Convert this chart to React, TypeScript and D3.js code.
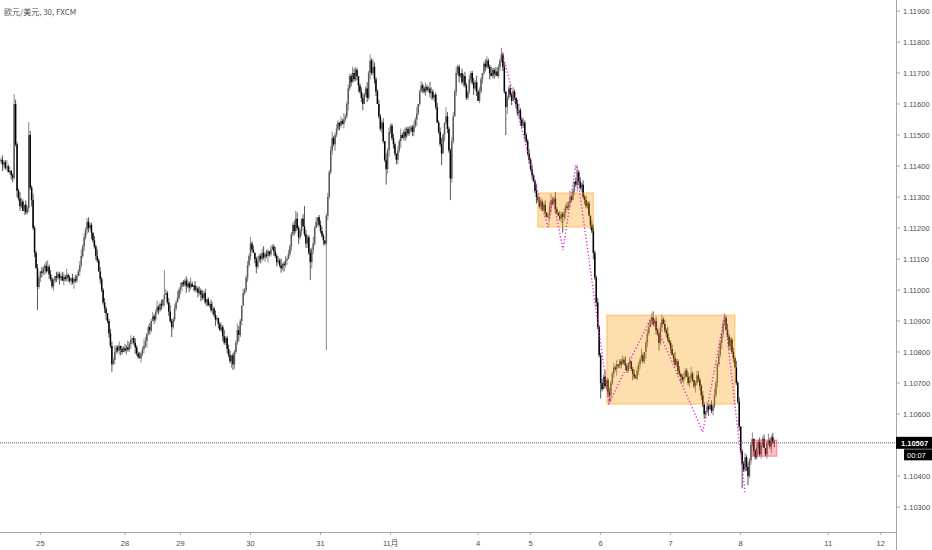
import React from 'react';
import * as d3 from 'd3';

// ---------- data ----------
const title = '欧元/美元, 30, FXCM';
// prices are stored as offsets above 1.10000 in units of 0.00001
const basePrice = 1.1;
const firstOpen = 1415;
const closes = [
  1420, 1405, 1412, 1395, 1398, 1380, 1385, 1370, 1362,
  1600, 1470, 1320,
  1295, 1270, 1285, 1255, 1275, 1250, 1265,
  1500, 1330, 1290, 1200, 1120, 1070, 1010, 1040, 1060,
  1055, 1070, 1078, 1060, 1075, 1050, 1035, 1012, 1030, 1045, 1040, 1052, 1038, 1045, 1030, 1042, 1035, 1048, 1040, 1030, 1038, 1025, 1035, 1030, 1045, 1060, 1080,
  1110, 1140, 1170, 1195, 1220, 1200, 1210,
  1185, 1160, 1140, 1110, 1095, 1060, 1035, 1000, 960, 940, 925, 900, 860, 820, 760, 775,
  800, 815, 805, 820, 810, 800, 812, 805, 815, 808, 825, 840, 845, 830, 815, 795, 785, 780, 795, 810,
  820, 835, 860, 880, 870, 900, 915, 905, 930, 945, 935, 955, 950, 970, 985,
  990, 960, 930, 900, 880, 905, 940, 960, 975, 1000, 1010,
  1025, 1018, 1030, 1012, 1022, 1008, 1020, 1010, 1015, 1000, 1005, 990, 998, 985,
  975, 990, 960, 970, 950, 955, 935, 940, 920, 905, 910, 890, 870, 880, 850,
  830, 845, 810, 790, 770, 790, 760, 800,
  830, 870, 855, 900, 950, 990, 1000, 1040, 1080, 1110, 1150, 1130,
  1120, 1100, 1075, 1095, 1110, 1100, 1120, 1105, 1115, 1110, 1125, 1115, 1130, 1140, 1125, 1110, 1090, 1095, 1080, 1070, 1085, 1080, 1095, 1100, 1115,
  1140, 1180, 1210, 1190, 1230, 1200, 1170, 1190,
  1230, 1205, 1180, 1150, 1170, 1120, 1090, 1130, 1150, 1200, 1220, 1235, 1210, 1190, 1175,
  1160, 1150, 1240,
  1300, 1380, 1450, 1490, 1470, 1500,
  1520, 1540, 1530, 1545, 1535, 1550, 1560,
  1600, 1650, 1690, 1670, 1700, 1680, 1710,
  1690, 1660, 1640, 1620, 1600, 1630,
  1650, 1620, 1700, 1740, 1700, 1720,
  1680, 1640, 1600, 1560, 1520, 1540, 1480, 1420, 1390,
  1450, 1510, 1530, 1490, 1470, 1440, 1420, 1450, 1480,
  1500, 1490, 1510, 1495, 1520, 1505, 1515, 1525, 1510, 1530, 1550, 1570,
  1600, 1640, 1660, 1650, 1640, 1655, 1645, 1650, 1635, 1640, 1620, 1630, 1590, 1540, 1510,
  1470, 1440, 1500, 1540, 1560, 1520, 1450, 1360, 1480,
  1560, 1640, 1700, 1720, 1690, 1700, 1670, 1690,
  1660, 1620, 1640, 1680, 1700, 1670, 1650, 1670, 1640, 1610,
  1640, 1680, 1700, 1730, 1720, 1740, 1720, 1700, 1690, 1710, 1695, 1705, 1690, 1720, 1740, 1760,
  1720, 1640, 1590, 1620, 1650, 1630,
  1610, 1640, 1620, 1600, 1570, 1580, 1550, 1530,
  1540, 1500, 1480, 1440, 1420, 1390, 1370, 1350, 1320, 1300, 1290,
  1270, 1285, 1260, 1275, 1250, 1235, 1240, 1270, 1290, 1280, 1295, 1260, 1250, 1240, 1230, 1245, 1235,
  1250, 1270, 1265, 1280, 1300, 1290, 1320, 1350, 1340, 1380,
  1350, 1330, 1340, 1300, 1290, 1270, 1280, 1240, 1210, 1190,
  1120, 1040, 960, 880, 790, 700, 680, 720,
  690, 710, 670, 660, 700, 730, 750, 745, 760, 755, 770,
  760, 775, 765, 755, 740, 760, 770, 745, 730, 720, 715, 740, 760,
  775, 790, 770, 800, 830, 860, 880, 900, 910,
  890, 900, 870, 860, 830, 880,
  905, 890, 870, 860, 840, 830, 810,
  790, 780, 760, 770, 740, 730, 720, 710, 720,
  740, 720, 700, 715, 730, 710, 690, 700, 725, 710, 690,
  660, 630, 600, 610, 625, 615, 630, 610, 625, 660,
  700, 760, 790, 830, 860, 890, 910,
  870, 850, 820, 840, 800, 780, 750,
  700, 640, 560, 480, 440,
  420, 460, 430, 400, 450,
  500, 520, 480, 460, 490, 510, 470, 500, 520, 490, 470, 505, 515, 495, 525, 510, 507,
];
// wick lengths beyond the body, in units of 0.00007
const wickUp = [
  1,2,1,1,3,1,2,0,1,2,2,1,1,3,2,1,0,2,1,1,
  2,1,3,1,1,2,1,0,2,1,1,2,3,1,2,1,1,0,2,1,
  1,1,2,2,1,3,1,1,0,2,1,2,1,1,2,3,1,2,1,0,
  2,1,1,0,2,1,3,1,2,1,1,2,1,0,1,2,2,1,3,1,
  1,2,0,1,1,2,1,3,1,2,0,1,2,1,1,2,1,1,3,2,
  0,1,2,1,2,1,1,3,1,1,2,0,1,2,1,2,3,1,1,2,
  1,3,1,2,0,1,1,2,2,1,3,1,0,2,1,1,2,1,2,1,
  2,0,1,1,2,3,1,2,1,0,1,2,1,3,1,1,2,2,0,1,
  1,1,3,2,1,0,2,1,1,2,1,3,1,2,0,1,2,1,1,2,
  3,1,2,1,0,2,1,1,2,1,2,1,3,0,1,2,1,2,1,1,
  1,2,1,3,1,1,0,2,1,2,1,1,2,1,3,1,2,0,1,2,
  2,1,0,1,2,1,2,3,1,1,2,1,0,2,1,3,1,1,2,1,
  1,3,2,1,1,0,1,2,2,1,1,3,1,2,1,0,2,1,1,2,
  1,1,2,0,3,1,2,1,1,2,1,0,2,1,3,1,1,2,1,1,
  2,1,1,2,1,3,0,1,2,1,1,2,1,1,3,2,1,0,1,2,
  1,2,3,1,0,1,2,1,1,2,2,1,3,1,1,0,2,1,2,1,
  0,2,1,1,2,1,3,1,2,1,0,1,2,2,1,1,3,1,1,2,
  2,1,1,3,1,2,0,1,1,2,1,2,1,0,2,3,1,1,2,1,
  1,1,2,1,2,0,1,3,1,1,2,1,1,2,0,1,2,3,1,1,
  3,1,0,2,1,1,2,1,2,1,3,1,1,0,2,1,1,2,1,2,
  1,2,1,1,0,2,3,1,1,2,1,1,2,1,3,0,1,2,1,1,
  2,1,2,0,1,1,2,1,3,1,1,2,0,1,2,1,2,1,1,3,
  1,0,1,2,2,1,1,3,1,2,1,0,2,1,1,2,1,3,1,1,
  2,1,3,1,1,2,0,1,2,1,1,2,1,3,1,0,1,2,2,1,
  1,2,1,0,2,1,1,2,1,3,1,1,2,1,0,2,1,1,3,1,
  1,1,2,1,3,1,2,0,1,1,2,1,2,1,1,3,0,1,2,1,
  2,1,1,2,0,1,3,1,1,2,1,
];
const wickDn = [
  1,3,2,1,1,0,1,2,2,1,1,3,1,2,1,0,2,1,1,2,
  1,3,1,2,0,1,1,2,2,1,3,1,0,2,1,1,2,1,2,1,
  3,1,0,2,1,1,2,1,2,1,3,1,1,0,2,1,1,2,1,2,
  2,1,3,1,1,2,1,0,2,1,1,2,3,1,2,1,1,0,2,1,
  1,2,3,1,0,1,2,1,1,2,2,1,3,1,1,0,2,1,2,1,
  3,1,2,1,0,2,1,1,2,1,2,1,3,0,1,2,1,2,1,1,
  1,0,1,2,2,1,1,3,1,2,1,0,2,1,1,2,1,3,1,1,
  1,2,0,1,1,2,1,3,1,2,0,1,2,1,1,2,1,1,3,2,
  2,1,1,3,1,2,0,1,1,2,1,2,1,0,2,3,1,1,2,1,
  1,2,1,3,1,1,0,2,1,2,1,1,2,1,3,1,2,0,1,2,
  1,2,1,1,3,1,2,0,1,2,2,1,1,3,2,1,0,2,1,1,
  1,2,1,0,2,1,1,2,1,3,1,1,2,1,0,2,1,1,3,1,
  2,0,1,1,2,3,1,2,1,0,1,2,1,3,1,1,2,2,0,1,
  1,2,1,1,0,2,3,1,1,2,1,1,2,1,3,0,1,2,1,1,
  1,1,2,2,1,3,1,1,0,2,1,2,1,1,2,3,1,2,1,0,
  1,1,2,0,3,1,2,1,1,2,1,0,2,1,3,1,1,2,1,1,
  1,1,2,1,3,1,2,0,1,1,2,1,2,1,1,3,0,1,2,1,
  0,1,2,1,2,1,1,3,1,1,2,0,1,2,1,2,3,1,1,2,
  1,1,2,1,2,0,1,3,1,1,2,1,1,2,0,1,2,3,1,1,
  2,1,0,1,2,1,2,3,1,1,2,1,0,2,1,3,1,1,2,1,
  2,1,1,0,2,1,3,1,2,1,1,2,1,0,1,2,2,1,3,1,
  2,1,3,1,1,2,0,1,2,1,1,2,1,3,1,0,1,2,2,1,
  1,1,3,2,1,0,2,1,1,2,1,3,1,2,0,1,2,1,1,2,
  0,2,1,1,2,1,3,1,2,1,0,1,2,2,1,1,3,1,1,2,
  2,1,1,2,1,3,0,1,2,1,1,2,1,1,3,2,1,0,1,2,
  2,1,2,0,1,1,2,1,3,1,1,2,0,1,2,1,2,1,1,3,
  1,2,1,0,1,2,1,1,3,1,2,
];
// [bar, extreme] for long wicks
const spikeHighs: [number, number][] = [
  [9, 1632], [19, 1542], [59, 1232], [112, 1064], [202, 1255], [208, 1271], [243, 1720],
  [253, 1760], [255, 1745], [305, 1590], [343, 1768], [395, 1403], [446, 925], [453, 920],
  [496, 925], [528, 530],
];
const spikeLows: [number, number][] = [
  [25, 935], [76, 735], [117, 848], [159, 742], [175, 1060], [212, 1032], [223, 806],
  [248, 1580], [264, 1340], [271, 1405], [302, 1403], [308, 1290], [346, 1500], [385, 1185],
  [411, 650], [417, 638], [451, 805], [482, 585], [508, 360], [512, 370],
];
const dayTickBars = [27, 85, 123, 171, 219, 267, 327, 363, 411, 459, 507, 567, 603];
const dayTickLabels = ['25', '28', '29', '30', '31', '11月', '4', '5', '6', '7', '8', '11', '12'];
const priceTicks = [1.103, 1.104, 1.106, 1.107, 1.108, 1.109, 1.110, 1.111, 1.112, 1.113, 1.114, 1.115, 1.116, 1.117, 1.118, 1.119];
const lastPrice = 1.10507;
const countdown = '00:07';
// rectangles: [fromBar, toBar, top, bottom]
const orangeBoxes: [number, number, number, number][] = [
  [368, 406, 1313, 1203],
  [415.3, 503, 919, 632],
];
const redBoxes: [number, number, number, number][] = [
  [514.7, 531.8, 516, 464],
];
// zigzag [bar, price]
const zigzag: [number, number][] = [
  [344, 1758], [369.4, 1290], [375, 1203], [378.3, 1300], [385.2, 1129], [394, 1403],
  [416.7, 635], [446.2, 916], [481, 542], [496, 919], [510, 348],
];

export default function App() {
  const W = 932, H = 550;
  const axisX = 896, axisY = 532;
  const x = d3.scaleLinear().domain([27, 507]).range([40.4, 740.7]);
  const y = d3.scaleLinear().domain([1.103, 1.119]).range([507, 11]);
  const toP = (v: number) => basePrice + v / 1e5;
  const hiMap = new Map(spikeHighs);
  const loMap = new Map(spikeLows);
  const candles = closes.map((c, k) => {
    const o = k === 0 ? firstOpen : closes[k - 1];
    let hi = Math.max(o, c) + wickUp[k] * 7;
    let lo = Math.min(o, c) - wickDn[k] * 7;
    if (hiMap.has(k)) hi = Math.max(hi, hiMap.get(k) as number);
    if (loMap.has(k)) lo = Math.min(lo, loMap.get(k) as number);
    return { k, o, c, hi, lo, up: c > o };
  });
  const line = d3.line<[number, number]>().x(d => x(d[0])).y(d => y(toP(d[1])));
  const yLast = y(lastPrice);
  const numFont = '"Liberation Sans", Arial, sans-serif';

  return (
    <svg width={W} height={H} style={{ position: 'absolute', left: 0, top: 0, display: 'block', background: '#fff' }}>
      <rect x={0} y={0} width={W} height={H} fill="#fff" />
      {/* candles */}
      <g>
        {candles.map(d => {
          const cx = x(d.k);
          const col = d.up ? '#5a5a5a' : '#000';
          const yt = y(toP(Math.max(d.o, d.c)));
          const yb = y(toP(Math.min(d.o, d.c)));
          return (
            <g key={d.k}>
              <line x1={cx} x2={cx} y1={y(toP(d.hi))} y2={y(toP(d.lo))} stroke={d.up ? '#8a8a8a' : '#555'} strokeWidth={1} />
              <rect x={cx - 0.75} width={1.5} y={yt} height={Math.max(1, yb - yt)} fill={col} />
            </g>
          );
        })}
      </g>
      {/* boxes */}
      {orangeBoxes.map((b, i) => (
        <rect key={'o' + i} x={x(b[0])} y={y(toP(b[2]))} width={x(b[1]) - x(b[0])} height={y(toP(b[3])) - y(toP(b[2]))}
          fill="rgba(255,152,0,0.32)" stroke="rgba(255,152,0,0.5)" strokeWidth={1} />
      ))}
      {redBoxes.map((b, i) => (
        <rect key={'r' + i} x={x(b[0])} y={y(toP(b[2]))} width={x(b[1]) - x(b[0])} height={y(toP(b[3])) - y(toP(b[2]))}
          fill="rgba(242,54,69,0.32)" stroke="rgba(242,54,69,0.5)" strokeWidth={1} />
      ))}
      {/* zigzag */}
      <path d={line(zigzag) || ''} fill="none" stroke="#e31ed2" strokeWidth={1.4} strokeDasharray="1.2 2.2" />
      {/* last price line */}
      <line x1={0} x2={axisX} y1={yLast} y2={yLast} stroke="#555" strokeWidth={1} strokeDasharray="1 1" />
      {/* axes */}
      <line x1={axisX + 0.5} x2={axisX + 0.5} y1={0} y2={H} stroke="#a3a6ad" strokeWidth={1} />
      <line x1={0} x2={axisX} y1={axisY + 0.5} y2={axisY + 0.5} stroke="#a3a6ad" strokeWidth={1} />
      {priceTicks.map(p => (
        <g key={p}>
          <line x1={axisX} x2={axisX + 4} y1={y(p)} y2={y(p)} stroke="#a3a6ad" />
          <text x={axisX + 7} y={y(p)} dy="0.35em" fontSize={7.5} fill="#4d4d4d" fontFamily={numFont}>{p.toFixed(5)}</text>
        </g>
      ))}
      {dayTickBars.map((b, i) => (
        <g key={b}>
          <line x1={x(b)} x2={x(b)} y1={axisY} y2={axisY + 3} stroke="#a3a6ad" />
          <text x={x(b)} y={axisY + 14} textAnchor="middle" fontSize={7.5} fill="#4d4d4d"
            fontFamily={'"Liberation Sans", "Noto Sans CJK SC", sans-serif'}>{dayTickLabels[i]}</text>
        </g>
      ))}
      {/* last price label */}
      <rect x={axisX} y={yLast - 6} width={W - axisX} height={12} fill="#000" />
      <text x={axisX + 5} y={yLast} dy="0.36em" fontSize={7.5} fontWeight="bold" fill="#fff" fontFamily={numFont}>{lastPrice.toFixed(5)}</text>
      <rect x={axisX + 8} y={yLast + 6.5} width={W - axisX - 8} height={11} fill="#000" />
      <text x={axisX + 11} y={yLast + 12} dy="0.36em" fontSize={7.5} fill="#fff" fontFamily={numFont}>{countdown}</text>
      {/* title */}
      <text x={4} y={15} fontSize={8} fill="#555" fontFamily={'"Noto Sans CJK SC", sans-serif'}>{title}</text>
    </svg>
  );
}
